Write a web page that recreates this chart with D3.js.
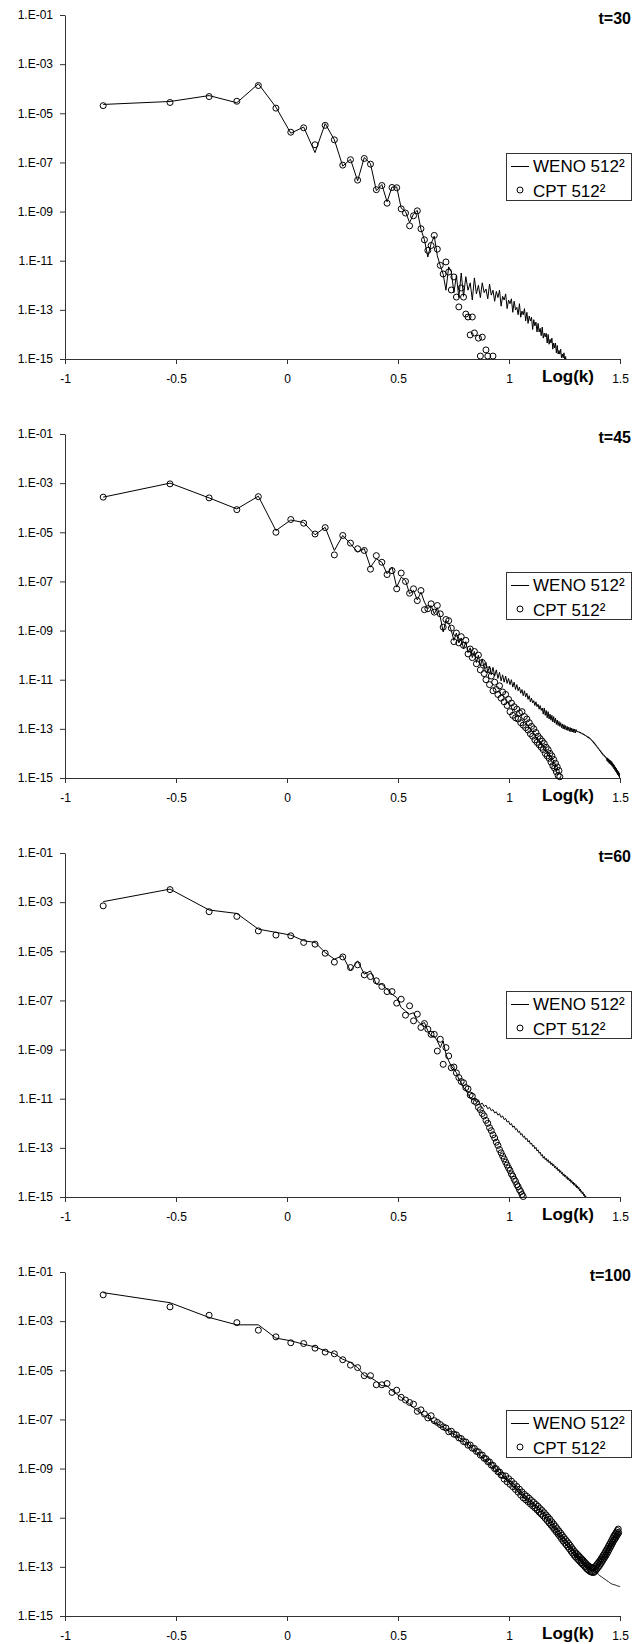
<!DOCTYPE html>
<html><head><meta charset="utf-8">
<script src="https://cdn.jsdelivr.net/npm/d3@7"></script>
<style>
body{margin:0;background:#fff}
svg{display:block}
text{font-family:"Liberation Sans",Arial,sans-serif;fill:#000}
</style>
</head><body>
<svg id="chart" width="632" height="1644"></svg>
<script>
// ---- data (values are log10 of the spectrum, index i -> wavenumber k=i+1) ----
const LOGK1 = -0.828; // log10 of the fundamental wavenumber (first point)
const panels = ["t=30", "t=45", "t=60", "t=100"];
const legendLabels = ["WENO 512\u00B2", "CPT 512\u00B2"];
const xTicks = [-1, -0.5, 0, 0.5, 1, 1.5];
const yTicks = [1e-1, 1e-3, 1e-5, 1e-7, 1e-9, 1e-11, 1e-13, 1e-15];
const xLabel = "Log(k)";

const weno30 = [
-4.64,-4.52,-4.28,-4.57,-3.8,-4.75,-5.81,-5.56,-6.6,-5.42,
-6.08,-7.15,-6.87,-7.75,-6.8,-7.05,-8.15,-7.9,-8.6,-8.0,
-8.0,-8.86,-9.0,-9.45,-9.1,-8.95,-9.72,-10.15,-10.85,-10.3,
-10.0,-10.8,-11.2,-11.55,-12.2,-11.25,-11.45,-12.3,-11.6,-12.5,
-11.5,-12.45,-11.65,-12.2,-11.9,-12.6,-11.7,-12.35,-12.0,-12.5,
-11.9,-12.3,-12.15,-12.55,-11.95,-12.4,-12.2,-12.65,-12.25,-12.5,
-12.2,-12.85,-12.45,-12.6,-12.35,-12.95,-12.6,-12.75,-12.55,-13.1,
-12.65,-13.0,-12.9,-13.2,-12.75,-13.3,-13.05,-13.2,-12.95,-13.45,
-13.1,-13.55,-13.25,-13.45,-13.3,-13.8,-13.4,-13.65,-13.5,-13.9,
-13.55,-13.9,-13.75,-14.05,-13.7,-14.15,-13.95,-14.1,-13.95,-14.35,
-14.0,-14.4,-14.2,-14.35,-14.15,-14.6,-14.35,-14.55,-14.35,-14.75,
-14.45,-14.8,-14.65,-14.8,-14.6,-14.95,-14.8,-14.95,-14.75,-15.1,
-14.9,-15.1];
const cpt30 = [
-4.69,-4.56,-4.32,-4.51,-3.87,-4.79,-5.77,-5.59,-6.28,-5.49,
-6.08,-7.11,-6.89,-7.72,-6.84,-7.07,-8.11,-7.94,-8.66,-8.02,
-8.03,-8.89,-9.06,-9.58,-9.17,-8.97,-9.70,-10.15,-10.58,-10.38,
-9.97,-10.53,-11.19,-11.54,-11.05,-11.46,-12.19,-11.66,-12.48,-12.88,
-12.11,-12.48,-13.17,-13.29,-14.02,-13.29,-13.94,null,-14.15,-14.88,
-14.11,null,-14.63,-14.88,null,null,-14.88];

const weno45 = [
-3.57,-3.0,-3.6,-4.05,-3.53,-4.93,-4.5,-4.6,-5.1,-4.8,
-5.74,-5.13,-5.47,-5.81,-5.67,-6.42,-6.08,-6.22,-6.69,-6.42,
-7.23,-6.83,-6.96,-7.5,-7.37,-7.75,-7.44,-7.84,-8.11,-7.98,
-8.32,-8.07,-8.45,-9.06,-8.59,
-8.7,-9.0,-9.4,-9.1,-9.5,-9.3,-9.75,-9.45,-9.9,-9.7,
-10.1,-9.85,-10.3,-10.0,-10.45,-10.15,-10.55,-10.3,-10.7,-10.45,
-10.8,-10.5,-10.85,-10.6,-10.95,-10.7,-11.05,-10.8,-11.1,-10.85,
-11.15,-10.95,-11.2,-11.0,-11.3,-11.1,-11.4,-11.2,-11.45,-11.3,
-11.55,-11.4,-11.65,-11.45,-11.7,-11.55,-11.8,-11.65,-11.9,-11.75,
-11.95,-11.85,-12.05,-11.9,-12.1,-12.0,-12.2,-12.05,-12.25,-12.15,
-12.4,-12.15,-12.45,-12.25,-12.55,-12.3,-12.6,-12.4,-12.65,-12.45,
-12.72,-12.5,-12.76,-12.56,-12.82,-12.64,-12.86,-12.7,-12.9,-12.75,
-12.95,-12.8,-13.0,-12.83,-13.02,-12.87,-13.05,-12.9,-13.07,-12.93,
-13.1,-12.95,-13.12,-12.97,-13.13,-13.0,-13.15,-13.01,-13.17,-13.03,
-13.12,-13.09,-13.14,-13.11,-13.16,-13.13,-13.19,-13.16,-13.22,-13.19,
-13.25,-13.22,-13.28,-13.25,-13.31,-13.29,-13.35,-13.32,-13.38,-13.36,
-13.42,-13.4,-13.47,-13.45,-13.52,-13.5,-13.58,-13.56,-13.64,-13.62,
-13.7,-13.68,-13.76,-13.74,-13.82,-13.8,-13.88,-13.86,-13.94,-13.92,
-14.0,-13.98,-14.06,-14.04,-14.1,-14.08,-14.15,-14.13,-14.2,-14.18,
-14.3,-14.18,-14.35,-14.22,-14.4,-14.26,-14.43,-14.29,-14.47,-14.33,
-14.52,-14.38,-14.57,-14.43,-14.63,-14.49,-14.69,-14.55,-14.75,-14.61,
-14.81,-14.67,-14.87,-14.73,-14.93,-14.79,-15.0,-15.05];
const cpt45 = [
-3.57,-3.03,-3.60,-4.08,-3.55,-5.0,-4.48,-4.63,-5.07,-4.81,
-5.92,-5.13,-5.44,-5.67,-5.74,-6.50,-5.95,-6.22,-6.72,-6.56,
-7.30,-6.66,-7.0,-7.48,-7.30,-7.78,-7.37,-8.15,-8.11,-7.91,
-8.25,-7.98,-8.32,-8.86,-8.55,
-8.6,-8.9,-9.45,-9.1,-9.5,-9.25,-9.6,-9.4,-9.95,-9.75,
-10.1,-9.85,-10.35,-10.0,-10.6,-10.3,-10.75,-11.0,-10.6,-11.2,
-10.85,-11.45,-11.1,-11.4,-11.6,-11.25,-11.75,-11.5,-11.9,-11.6,
-12.05,-11.8,-12.3,-11.95,-12.45,-12.1,-12.55,-12.2,-12.6,-12.35,
-12.75,-12.3,-12.85,-12.5,-12.95,-12.6,-13.05,-12.75,-13.2,-12.9,
-13.3,-13.0,-13.45,-13.15,-13.55,-13.3,-13.65,-13.4,-13.75,-13.5,
-13.85,-13.6,-14.0,-13.75,-14.1,-13.85,-14.2,-14.0,-14.35,-14.1,
-14.5,-14.25,-14.6,-14.4,-14.75,-14.55,-14.9,-14.7,-14.95];

const weno60 = [
-2.98,-2.47,-3.32,-3.46,-4.1,-4.23,-4.34,-4.57,-4.64,-5.05,
-5.32,-5.18,-5.8,-5.39,-5.93,-5.8,-6.34,-6.34,-6.54,-6.75,
-6.88,-7.29,-7.43,-7.56,-7.5,-7.83,-7.97,-7.9,-8.24,-8.45,
-8.45,-8.65,-8.92,-8.65,-9.19,-9.46,-9.67,-9.8,-9.94,-10.21,
-10.35,-10.55,-10.62,-10.82,-10.96,
-11.05,-11.0,-11.15,-11.09,-11.23,-11.18,-11.32,-11.26,-11.41,-11.35,
-11.49,-11.44,-11.58,-11.53,-11.67,-11.61,-11.76,-11.7,-11.85,-11.8,
-11.95,-11.91,-12.06,-12.01,-12.16,-12.11,-12.26,-12.22,-12.37,-12.32,
-12.47,-12.42,-12.57,-12.52,-12.66,-12.61,-12.76,-12.7,-12.85,-12.8,
-12.94,-12.89,-13.04,-12.98,-13.13,-13.08,-13.22,-13.17,-13.32,-13.27,
-13.42,-13.35,-13.48,-13.42,-13.55,-13.48,-13.61,-13.55,-13.68,-13.61,
-13.74,-13.67,-13.81,-13.74,-13.87,-13.8,-13.94,-13.87,-14.0,-13.93,
-14.06,-14.0,-14.13,-14.06,-14.18,-14.11,-14.24,-14.17,-14.3,-14.22,
-14.35,-14.28,-14.41,-14.33,-14.46,-14.39,-14.52,-14.44,-14.57,-14.5,
-14.63,-14.55,-14.68,-14.61,-14.75,-14.68,-14.81,-14.75,-14.88,-14.81,
-14.94,-14.88,-15.01,-14.95,-15.08];
const cpt60 = [
-3.15,-2.49,-3.39,-3.58,-4.17,-4.34,-4.37,-4.64,-4.71,-5.08,
-5.44,-5.23,-5.66,-5.55,-5.96,-6.03,-6.2,-6.43,-6.64,-6.64,
-7.11,-6.95,-7.6,-7.22,-7.83,-7.56,-8.1,-7.94,-8.17,-8.38,
-8.38,-9.06,-8.58,-9.6,-8.92,
-9.26,-9.74,-9.71,-9.95,-10.14,-10.3,-10.35,-10.55,-10.6,-10.85,
-10.9,-11.1,-11.15,-11.35,-11.45,-11.6,-11.7,-11.88,-12.0,-12.18,
-12.3,-12.47,-12.6,-12.77,-12.9,-13.07,-13.2,-13.33,-13.45,-13.58,
-13.7,-13.82,-13.92,-14.06,-14.15,-14.28,-14.37,-14.5,-14.58,-14.7,
-14.78,-14.9,-14.98];

const weno100 = [
-1.84,-2.25,-2.85,-3.15,-3.15,-3.69,-3.8,-3.94,-4.05,-4.21,
-4.32,-4.55,-4.68,-4.89,-5.22,-5.29,-5.45,-5.63,-5.63,-5.83,
-5.97,-6.1,-6.24,-6.38,-6.51,-6.65,-6.75,-6.85,-6.94,-7.05,
-7.12,-7.19,-7.25,-7.32,-7.39,-7.46,-7.52,-7.59,-7.66,-7.73,-7.79,-7.86,
-7.94,-8.01,-8.09,-8.16,-8.24,-8.31,-8.39,-8.46,-8.54,-8.61,
-8.67,-8.73,-8.8,-8.86,-8.92,-8.98,-9.04,-9.11,-9.17,-9.23,-9.29,
-9.35,-9.41,-9.47,-9.53,-9.59,-9.64,-9.7,-9.76,-9.82,-9.88,-9.94,-10.0,-10.05,-10.11,-10.17,
-10.22,-10.27,-10.33,-10.38,-10.43,-10.48,-10.54,-10.59,-10.64,-10.69,-10.75,-10.8,-10.85,-10.9,-10.96,-11.01,-11.06,-11.11,
-11.15,-11.19,-11.23,-11.27,-11.31,-11.35,-11.39,-11.43,-11.47,-11.51,-11.55,-11.59,-11.63,-11.67,-11.71,-11.75,-11.79,-11.83,-11.87,-11.91,-11.95,-11.99,
-12.02,-12.05,-12.07,-12.1,-12.13,-12.16,-12.18,-12.21,-12.24,-12.27,-12.29,-12.32,-12.35,-12.38,-12.4,-12.43,-12.46,-12.49,-12.51,-12.54,
-12.56,-12.58,-12.61,-12.63,-12.65,-12.67,-12.69,-12.72,-12.74,-12.76,-12.78,-12.8,-12.83,-12.85,-12.87,
-12.9,-12.92,-12.95,-12.97,-13.0,-13.02,-13.05,-13.07,-13.1,-13.12,-13.15,-13.17,-13.2,-13.22,-13.25,-13.27,-13.3,-13.32,-13.35,
-13.37,-13.38,-13.4,-13.41,-13.43,-13.44,-13.46,-13.47,-13.49,-13.5,-13.52,-13.53,-13.55,-13.56,-13.58,-13.59,-13.61,-13.62,-13.64,-13.65,-13.67,-13.68,-13.69,
-13.7,-13.71,-13.71,-13.72,-13.73,-13.73,-13.74,-13.74,-13.75,-13.76,-13.76,-13.77,-13.78,-13.78,-13.79,-13.79,-13.8,-13.8];
const cpt100 = [
-1.93,-2.42,-2.76,-3.06,-3.37,-3.64,-3.88,-3.91,-4.1,-4.26,
-4.33,-4.57,-4.79,-4.89,-5.22,-5.22,-5.59,-5.59,-5.54,-5.9,
-5.81,-6.1,-6.21,-6.31,-6.38,-6.67,-6.61,-6.78,-6.94,-6.85,
-7.05,-7.12,-7.21,-7.3,
-7.35,-7.5,-7.48,-7.6,-7.63,-7.75,-7.78,-7.9,-7.92,-8.05,-8.04,-8.17,-8.18,-8.3,-8.32,-8.45,-8.45,-8.58,-8.6,-8.72,-8.73,-8.86,-8.87,-9.0,-9.01,-9.13,-9.14,-9.26,-9.28,
-9.43,-9.3,-9.54,-9.41,-9.64,-9.51,-9.74,-9.62,-9.85,-9.73,-9.96,-9.84,-10.08,-9.95,-10.19,
-10.05,-10.27,-10.13,-10.35,-10.21,-10.44,-10.3,-10.52,-10.38,-10.6,-10.46,-10.68,-10.54,-10.77,-10.63,-10.85,-10.71,-10.93,
-10.8,-11.02,-10.89,-11.11,-10.98,-11.21,-11.07,-11.3,-11.17,-11.39,-11.26,-11.49,-11.35,-11.58,-11.45,-11.67,-11.54,-11.76,-11.63,-11.86,-11.72,-11.95,
-11.81,-12.03,-11.89,-12.11,-11.97,-12.19,-12.05,-12.27,-12.13,-12.36,-12.22,-12.44,-12.3,-12.52,-12.38,
-12.59,-12.44,-12.65,-12.5,-12.71,-12.56,-12.77,-12.62,-12.83,-12.68,-12.89,-12.73,-12.94,-12.79,-13.0,-12.85,-13.06,-12.91,
-13.11,-12.95,-13.15,-12.99,-13.19,-13.02,-13.21,-13.04,-13.23,-13.05,-13.23,-13.04,
-13.19,-12.98,-13.13,-12.92,-13.07,-12.86,-13.01,-12.8,-12.95,
-12.74,-12.88,-12.67,-12.81,-12.6,-12.74,-12.53,-12.67,-12.46,-12.6,-12.38,-12.53,-12.31,-12.46,-12.24,
-12.38,-12.16,-12.3,-12.08,-12.22,-12.01,-12.15,-11.93,-12.07,-11.85,-11.99,-11.77,
-11.92,-11.71,-11.86,-11.65,-11.8,-11.59,-11.73,-11.52,-11.67,-11.46,-11.61];

const wenoSeries = [weno30, weno45, weno60, weno100];
const cptSeries = [cpt30, cpt45, cpt60, cpt100];

// ---- layout ----
const X0 = 65, X1 = 620, TOP0 = 15, PH = 344, STEP = 419;
const svg = d3.select("#chart");
const x = d3.scaleLinear().domain([-1, 1.5]).range([X0, X1]);
const yFmt = d => "1.E-" + String(Math.round(-Math.log10(d))).padStart(2, "0");
const toPts = arr => arr.map((v, i) => v == null ? null : { lk: LOGK1 + Math.log10(i + 1), e: Math.pow(10, v) }).filter(d => d);

panels.forEach((title, p) => {
  const top = TOP0 + p * STEP, bot = top + PH;
  const y = d3.scaleLog().domain([1e-15, 1e-1]).range([bot, top]);
  const g = svg.append("g");

  g.append("clipPath").attr("id", "clip" + p)
    .append("rect").attr("x", X0).attr("y", top).attr("width", X1 - X0 + 1).attr("height", PH);

  // axes
  const ya = g.append("g").attr("transform", `translate(${X0},0)`)
    .call(d3.axisLeft(y).tickValues(yTicks).tickFormat(yFmt).tickSize(5).tickSizeOuter(0).tickPadding(7));
  const xa = g.append("g").attr("transform", `translate(0,${bot})`)
    .call(d3.axisBottom(x).tickValues(xTicks).tickFormat(d => String(d)).tickSize(5).tickSizeOuter(0));
  [ya, xa].forEach(a => {
    a.select(".domain").attr("stroke", "#333").attr("stroke-width", 1);
    a.selectAll(".tick line").attr("stroke", "#333");
    a.selectAll("text").style("font-size", "12px").attr("fill", "#000");
  });
  xa.selectAll("text").attr("y", 24).attr("dy", null);

  // data
  const line = d3.line().x(d => x(d.lk)).y(d => y(d.e));
  g.append("path").datum(toPts(wenoSeries[p]))
    .attr("clip-path", `url(#clip${p})`)
    .attr("d", line).attr("fill", "none").attr("stroke", "#000").attr("stroke-width", 1);

  g.append("g").selectAll("circle")
    .data(toPts(cptSeries[p]).filter(d => d.e >= 1e-15 * 0.85))
    .join("circle")
    .attr("cx", d => x(d.lk)).attr("cy", d => y(d.e)).attr("r", 3)
    .attr("fill", "none").attr("stroke", "#000").attr("stroke-width", 1);

  // title
  g.append("text").attr("x", 631).attr("y", top + 9).attr("text-anchor", "end")
    .style("font-size", "16px").style("font-weight", "bold").text(title);

  // x label
  g.append("text").attr("x", 542).attr("y", bot + 23)
    .style("font-size", "17px").style("font-weight", "bold").text(xLabel);

  // legend
  const lg = g.append("g");
  lg.append("rect").attr("x", 506.5).attr("y", top + 138.5).attr("width", 125).attr("height", 47)
    .attr("fill", "#fff").attr("stroke", "#333").attr("stroke-width", 1);
  lg.append("line").attr("x1", 511).attr("x2", 529).attr("y1", top + 151.5).attr("y2", top + 151.5)
    .attr("stroke", "#000").attr("stroke-width", 1);
  lg.append("circle").attr("cx", 520).attr("cy", top + 175).attr("r", 3)
    .attr("fill", "none").attr("stroke", "#000");
  lg.append("text").attr("x", 533).attr("y", top + 157).style("font-size", "17px").text(legendLabels[0]);
  lg.append("text").attr("x", 533).attr("y", top + 182).style("font-size", "17px").text(legendLabels[1]);
});
</script>
</body></html>
